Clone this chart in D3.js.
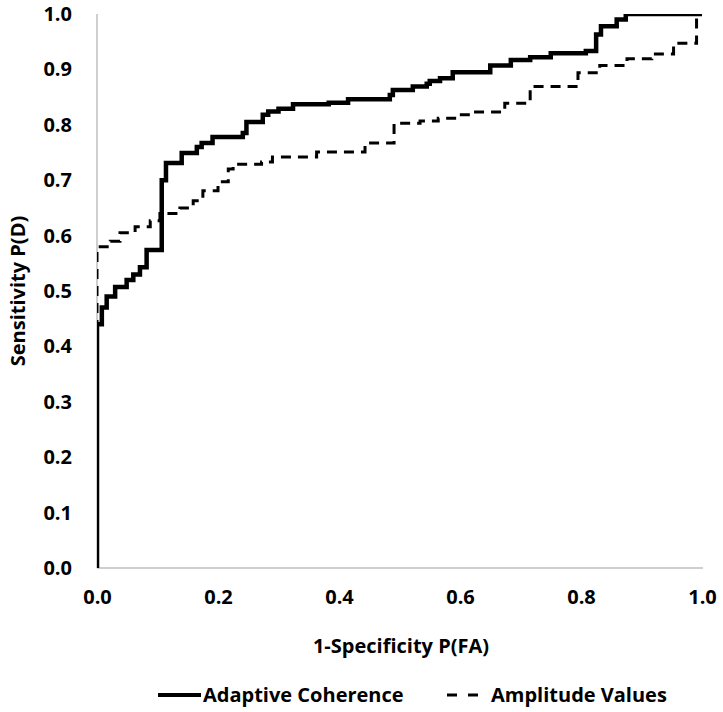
<!DOCTYPE html>
<html>
<head>
<meta charset="utf-8">
<script src="https://cdn.jsdelivr.net/npm/d3@7"></script>
<style>
  html, body { margin: 0; padding: 0; background: #fff; }
  text { font-family: "Open Sans", "DejaVu Sans", sans-serif; font-weight: 700; fill: #000; }
</style>
</head>
<body>
<svg id="chart" width="723" height="712"></svg>
<script>
// 1-Specificity P(FA) / Sensitivity P(D) pairs (step ROC curves)
const adaptiveFA = [0, 0, 0.008, 0.016, 0.03, 0.049, 0.06, 0.071, 0.082, 0.107, 0.114, 0.14, 0.165, 0.173, 0.191, 0.241, 0.247, 0.274, 0.283, 0.30, 0.324, 0.383, 0.415, 0.484, 0.489, 0.522, 0.545, 0.55, 0.567, 0.588, 0.65, 0.684, 0.716, 0.75, 0.808, 0.825, 0.833, 0.859, 0.874, 1.0];
const adaptiveD  = [0, 0.44, 0.47, 0.49, 0.507, 0.52, 0.53, 0.543, 0.574, 0.70, 0.731, 0.749, 0.76, 0.767, 0.778, 0.785, 0.805, 0.818, 0.824, 0.829, 0.837, 0.84, 0.846, 0.854, 0.863, 0.869, 0.874, 0.879, 0.884, 0.895, 0.907, 0.917, 0.922, 0.929, 0.933, 0.963, 0.978, 0.99, 1.0, 1.0];

const amplitudeFA = [0, 0, 0.022, 0.038, 0.063, 0.088, 0.104, 0.137, 0.159, 0.175, 0.2, 0.217, 0.225, 0.272, 0.29, 0.363, 0.443, 0.446, 0.491, 0.534, 0.564, 0.594, 0.622, 0.674, 0.716, 0.724, 0.795, 0.831, 0.876, 0.917, 0.953, 0.991, 0.991, 1.0];
const amplitudeD  = [0, 0.58, 0.59, 0.605, 0.616, 0.627, 0.64, 0.65, 0.663, 0.681, 0.697, 0.72, 0.729, 0.733, 0.742, 0.751, 0.764, 0.767, 0.803, 0.807, 0.812, 0.818, 0.823, 0.839, 0.863, 0.869, 0.894, 0.907, 0.919, 0.928, 0.947, 0.953, 1.0, 1.0];

const tickValues = [0, 0.1, 0.2, 0.3, 0.4, 0.5, 0.6, 0.7, 0.8, 0.9, 1.0];
const xTickValues = [0, 0.2, 0.4, 0.6, 0.8, 1.0];
const seriesNames = ["Adaptive Coherence", "Amplitude Values"];

const svg = d3.select("#chart");
const mLeft = 97, mRight = 702, mTop = 14, mBottom = 568;
const FS = "20px";

const x = d3.scaleLinear().domain([0, 1]).range([mLeft, mRight]);
const y = d3.scaleLinear().domain([0, 1]).range([mBottom, mTop]);

svg.append("defs").append("clipPath").attr("id", "plotclip")
  .append("rect").attr("x", mLeft).attr("y", mTop).attr("width", mRight - mLeft).attr("height", mBottom - mTop);

// axes lines
svg.append("line").attr("x1", mLeft).attr("x2", mLeft).attr("y1", mTop).attr("y2", mBottom)
  .attr("stroke", "#bfbfbf").attr("stroke-width", 1.5);
svg.append("line").attr("x1", mLeft).attr("x2", mRight + 1).attr("y1", mBottom).attr("y2", mBottom)
  .attr("stroke", "#bfbfbf").attr("stroke-width", 1.5);

// y tick labels
const yAxis = d3.axisLeft(y).tickValues(tickValues).tickFormat(d3.format(".1f")).tickSize(0).tickPadding(25);
const gy = svg.append("g").attr("transform", `translate(${mLeft},0)`).call(yAxis);
gy.select(".domain").remove();
gy.selectAll("text").style("font-size", FS).style("font-family", '"Open Sans", sans-serif').style("font-weight", 700).attr("fill", "#000");

// x tick labels
const xAxis = d3.axisBottom(x).tickValues(xTickValues).tickFormat(d3.format(".1f")).tickSize(0).tickPadding(22);
const gx = svg.append("g").attr("transform", `translate(0,${mBottom})`).call(xAxis);
gx.select(".domain").remove();
gx.selectAll("text").style("font-size", FS).style("font-family", '"Open Sans", sans-serif').style("font-weight", 700).attr("fill", "#000");

// axis titles
svg.append("text").attr("x", 401).attr("y", 653).attr("text-anchor", "middle")
  .style("font-size", FS).text("1-Specificity P(FA)");
svg.append("text").attr("transform", `translate(25,291) rotate(-90)`).attr("text-anchor", "middle")
  .style("font-size", FS).text("Sensitivity P(D)");

const line = d3.line().x(d => x(d[0])).y(d => y(d[1])).curve(d3.curveStepAfter);

const plot = svg.append("g").attr("clip-path", "url(#plotclip)");
const ampData = amplitudeFA.map((v, i) => [v, amplitudeD[i]]);
const adaData = adaptiveFA.map((v, i) => [v, adaptiveD[i]]);

plot.append("path").datum(ampData).attr("d", line).attr("fill", "none")
  .attr("stroke", "#000").attr("stroke-width", 3).attr("stroke-dasharray", "10,7");
plot.append("path").datum(adaData).attr("d", line).attr("fill", "none")
  .attr("stroke", "#000").attr("stroke-width", 4.5);

// legend
const lg = svg.append("g");
lg.append("line").attr("x1", 158).attr("x2", 201).attr("y1", 695).attr("y2", 695)
  .attr("stroke", "#000").attr("stroke-width", 4);
lg.append("text").attr("x", 203).attr("y", 702).style("font-size", FS).text(seriesNames[0]);
lg.append("line").attr("x1", 447).attr("x2", 479).attr("y1", 695).attr("y2", 695)
  .attr("stroke", "#000").attr("stroke-width", 3).attr("stroke-dasharray", "10,11");
lg.append("text").attr("x", 491).attr("y", 702).style("font-size", FS).text(seriesNames[1]);
</script>
</body>
</html>
